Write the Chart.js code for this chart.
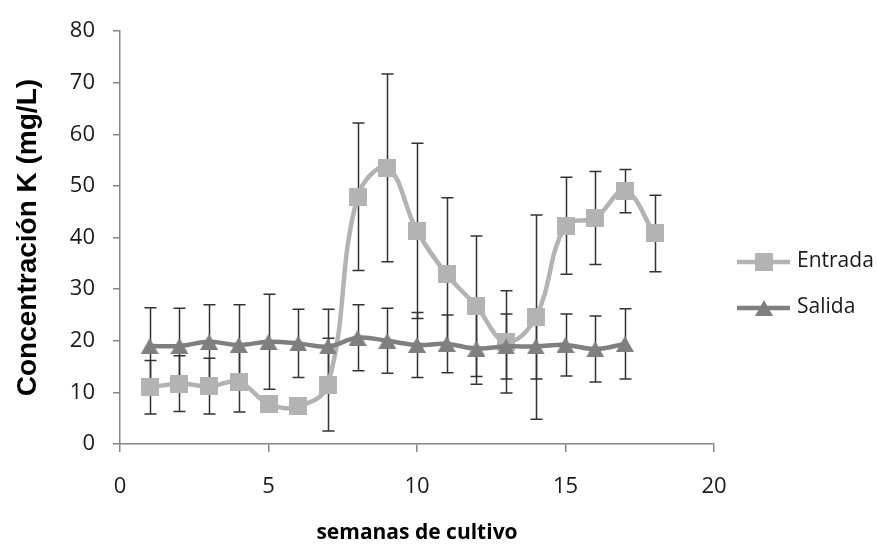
<!DOCTYPE html>
<html>
<head>
<meta charset="utf-8">
<script src="https://cdn.jsdelivr.net/npm/chart.js@4.4.0/dist/chart.umd.min.js"></script>
<style>
	body { margin: 0; background: #fff; }
	canvas { display: block; }
</style>
</head>
<body>
<canvas id="grafico" width="878" height="545"></canvas>
<script>
'use strict';

// semanas de cultivo
const semanasEntrada = [1, 2, 3, 4, 5, 6, 7, 8, 9, 10, 11, 12, 13, 14, 15, 16, 17, 18];
const semanasSalida = [1, 2, 3, 4, 5, 6, 7, 8, 9, 10, 11, 12, 13, 14, 15, 16, 17];

// concentración K (mg/L) y desviación
const entrada = [11.0, 11.7, 11.2, 12.0, 7.8, 7.3, 11.5, 47.9, 53.5, 41.3, 32.9, 26.7, 19.8, 24.6, 42.3, 43.8, 49.0, 40.8];
const entradaErr = [5.2, 5.4, 5.4, 5.8, 1.0, 1.0, 9.0, 14.3, 18.2, 17.0, 14.8, 13.6, 9.9, 19.8, 9.4, 9.0, 4.2, 7.4];
const salida = [19.0, 19.0, 19.8, 19.2, 19.8, 19.5, 18.9, 20.6, 20.0, 19.2, 19.4, 18.5, 18.9, 18.9, 19.2, 18.4, 19.4];
const salidaErr = [7.4, 7.3, 7.2, 7.8, 9.2, 6.6, 7.2, 6.4, 6.3, 6.3, 5.6, 6.9, 6.3, 6.3, 6.0, 6.4, 6.8];

const ticksY = [0, 10, 20, 30, 40, 50, 60, 70, 80];
const ticksX = [0, 5, 10, 15, 20];

const colorEntrada = '#b3b3b3',
	colorSalida = '#7f7f7f',
	colorEje = '#868686',
	colorTexto = '#1a1a1a';

const marcador = (ancho, alto, color, dibujar) => {
	const c = document.createElement('canvas');
	c.width = ancho;
	c.height = alto;
	const g = c.getContext('2d');
	g.fillStyle = color;
	dibujar(g);
	return c;
}

const cuadrado = marcador(18, 18, colorEntrada, g => g.fillRect(0, 0, 18, 18));
const triangulo = marcador(18, 16, colorSalida, g => {
	g.beginPath();
	g.moveTo(9, 0);
	g.lineTo(18, 16);
	g.lineTo(0, 16);
	g.closePath();
	g.fill();
});

const puntos = (xs, ys) => xs.map((x, i) => ({ x: x, y: ys[i] }));

const barrasError = {
	id: 'barrasError',
	beforeDatasetsDraw: chart => {
		const { ctx, scales: { x, y } } = chart;
		const series = [
			{ xs: semanasSalida, ys: salida, err: salidaErr },
			{ xs: semanasEntrada, ys: entrada, err: entradaErr }
		];
		ctx.save();
		ctx.lineWidth = 1.5;
		ctx.strokeStyle = '#333';
		series.forEach(s => {
			s.xs.forEach((sx, i) => {
				const px = Math.round(x.getPixelForValue(sx)) + 0.5;
				const arriba = y.getPixelForValue(s.ys[i] + s.err[i]);
				const abajo = y.getPixelForValue(s.ys[i] - s.err[i]);
				ctx.beginPath();
				ctx.moveTo(px, arriba);
				ctx.lineTo(px, abajo);
				ctx.moveTo(px - 6, arriba);
				ctx.lineTo(px + 6, arriba);
				ctx.moveTo(px - 6, abajo);
				ctx.lineTo(px + 6, abajo);
				ctx.stroke();
			})
		})
		ctx.restore();
	}
};

const leyendaY = [262, 308];

const leyenda = {
	id: 'leyenda',
	afterDraw: chart => {
		const { ctx, chartArea } = chart;
		const x0 = chartArea.right + 23;
		ctx.save();
		chart.data.datasets.forEach((ds, i) => {
			const yy = leyendaY[i];
			ctx.strokeStyle = ds.borderColor;
			ctx.lineWidth = 4.5;
			ctx.beginPath();
			ctx.moveTo(x0, yy);
			ctx.lineTo(x0 + 53, yy);
			ctx.stroke();
			const img = ds.pointStyle;
			ctx.drawImage(img, x0 + 27 - img.width / 2, yy - img.height / 2);
			ctx.fillStyle = colorTexto;
			ctx.font = '21px "Open Sans"';
			ctx.textBaseline = 'middle';
			ctx.fillText(ds.label, x0 + 60, yy - 1);
		})
		ctx.restore();
	}
};

new Chart(document.getElementById('grafico').getContext('2d'), {
	type: 'line',
	data: {
		datasets: [
			{
				label: 'Entrada',
				data: puntos(semanasEntrada, entrada),
				borderColor: colorEntrada,
				backgroundColor: colorEntrada,
				borderWidth: 4.5,
				tension: 0.4,
				pointStyle: cuadrado,
				pointRadius: 9,
				order: 1
			},
			{
				label: 'Salida',
				data: puntos(semanasSalida, salida),
				borderColor: colorSalida,
				backgroundColor: colorSalida,
				borderWidth: 4.5,
				tension: 0.4,
				pointStyle: triangulo,
				pointRadius: 9,
				order: 0
			}
		]
	},
	options: {
		responsive: false,
		animation: false,
		devicePixelRatio: 1,
		layout: {
			padding: { top: 28, right: 164, bottom: 0, left: 0 }
		},
		plugins: {
			legend: { display: false },
			tooltip: { enabled: false }
		},
		scales: {
			x: {
				type: 'linear',
				min: 0,
				max: 20,
				afterFit: s => { s.height = 101; },
				afterBuildTicks: s => { s.ticks = ticksX.map(v => ({ value: v })); },
				border: { color: colorEje, width: 1.5 },
				grid: { drawOnChartArea: false, color: colorEje, tickLength: 8, lineWidth: 1.5 },
				ticks: {
					padding: 22,
					color: colorTexto,
					font: { family: '"Open Sans"', size: 22 }
				},
				title: {
					display: true,
					text: 'semanas de cultivo',
					color: '#000',
					padding: { top: 0, bottom: 1 },
					font: { family: '"Open Sans"', size: 21, weight: 'bold', lineHeight: 1 }
				}
			},
			y: {
				min: 0,
				max: 80,
				afterFit: s => { s.width = 120; },
				afterBuildTicks: s => { s.ticks = ticksY.map(v => ({ value: v })); },
				border: { color: colorEje, width: 1.5 },
				grid: { drawOnChartArea: false, color: colorEje, tickLength: 7, lineWidth: 1.5 },
				ticks: {
					padding: 18,
					color: colorTexto,
					font: { family: '"Open Sans"', size: 22 }
				},
				title: {
					display: true,
					text: 'Concentración K (mg/L)',
					color: '#000',
					padding: { top: 14, bottom: 0 },
					font: { family: '"Liberation Sans"', size: 28, weight: 'bold', lineHeight: 1 }
				}
			}
		}
	},
	plugins: [barrasError, leyenda]
});
</script>
</body>
</html>
